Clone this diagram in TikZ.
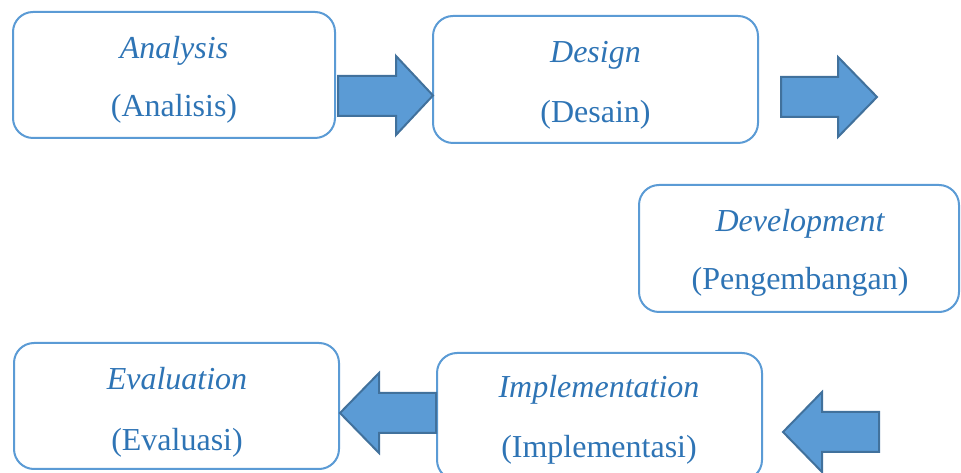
\documentclass[tikz,border=0pt]{standalone}
\usepackage{fontspec}
\setmainfont{Liberation Serif}
\definecolor{boxline}{HTML}{5B9BD5}
\definecolor{txtblue}{HTML}{2E74B5}
\definecolor{arrfill}{HTML}{5B9BD5}
\definecolor{arrline}{HTML}{41719C}
\tikzset{
  stagebox/.style={draw=boxline, line width=1.5pt, rounded corners=15pt, inner sep=0pt, fill=white},
  entxt/.style={anchor=base, text=txtblue, font=\fontsize{24}{28}\selectfont\itshape, inner sep=0pt},
  idtxt/.style={anchor=base, text=txtblue, font=\fontsize{24}{28}\selectfont, inner sep=0pt},
  blockarrow/.style={fill=arrfill, draw=arrline, line width=1.5pt, line join=miter}
}
\begin{document}
\begin{tikzpicture}[x=0.75pt,y=-0.75pt]
\useasboundingbox (0,0) rectangle (961,473);
% boxes
\node[stagebox, minimum width=241.5pt, minimum height=94.5pt] (ana) at (174,75) {};
\node[stagebox, minimum width=243.75pt, minimum height=95.25pt] (des) at (595.5,79.5) {};
\node[stagebox, minimum width=240pt, minimum height=95.25pt] (dev) at (799,248.5) {};
\node[stagebox, minimum width=243.75pt, minimum height=94.5pt] (eva) at (176.5,406) {};
\node[stagebox, minimum width=243.75pt, minimum height=95.25pt] (imp) at (599.5,416.5) {};
% texts
\node[entxt] (anaE) at (174,59) {Analysis};
\node[idtxt] (anaI) at (174,117) {(Analisis)};
\node[entxt] (desE) at (595.5,63) {Design};
\node[idtxt] (desI) at (595.5,123) {(Desain)};
\node[entxt] (devE) at (800,232) {Development};
\node[idtxt] (devI) at (800,290) {(Pengembangan)};
\node[entxt] (evaE) at (177,390) {Evaluation};
\node[idtxt] (evaI) at (177,451) {(Evaluasi)};
\node[entxt] (impE) at (599,398) {Implementation};
\node[idtxt] (impI) at (599,458) {(Implementasi)};
% block arrows
\draw[blockarrow] (338,76) -- (396,76) -- (396,56) -- (433,95.5) -- (396,135) -- (396,116) -- (338,116) -- cycle;
\draw[blockarrow] (781,77) -- (838,77) -- (838,57) -- (877,97) -- (838,137) -- (838,117) -- (781,117) -- cycle;
\draw[blockarrow] (436,393) -- (379,393) -- (379,373) -- (340,413) -- (379,453) -- (379,433) -- (436,433) -- cycle;
\draw[blockarrow] (879,412) -- (822,412) -- (822,392) -- (783,432) -- (822,472) -- (822,452) -- (879,452) -- cycle;
\end{tikzpicture}
\end{document}
